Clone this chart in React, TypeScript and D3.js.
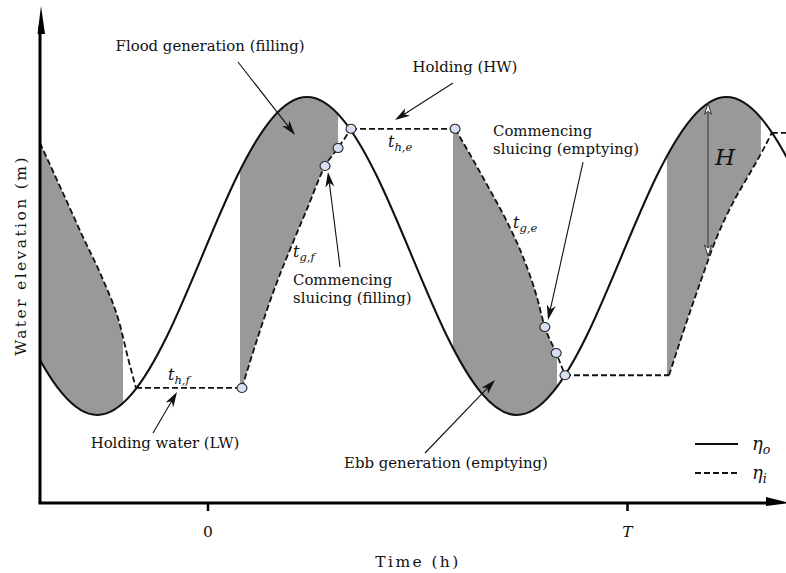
import React from 'react';
import * as d3 from 'd3';

const W = 786;
const H = 573;

// Outer (sea) water level η_o, read at regular points along the curve (t in units of T)
const outerT = [-0.514, -0.431, -0.347, -0.264, -0.181, -0.097, -0.014, 0.069, 0.153, 0.236, 0.319, 0.403, 0.486, 0.569, 0.653, 0.736, 0.819, 0.903, 0.986, 1.069, 1.153, 1.236, 1.319, 1.403, 1.486];
const outerEta = [0, -0.5, -0.866, -1, -0.866, -0.5, 0, 0.5, 0.866, 1, 0.866, 0.5, 0, -0.5, -0.866, -1, -0.866, -0.5, 0, 0.5, 0.866, 1, 0.866, 0.5, 0];

// Inner (lagoon) water level η_i, phase by phase
const ebbLeftT = [-0.4005, -0.3457, -0.298, -0.25, -0.2098, -0.1907, -0.1716];
const ebbLeftEta = [0.711, 0.396, 0.119, -0.151, -0.434, -0.642, -0.83];
const holdLowT = [-0.1716, 0.081];
const holdLowEta = [-0.83, -0.83];
const floodT = [0.081, 0.119, 0.16, 0.2, 0.238, 0.279, 0.31, 0.341];
const floodEta = [-0.83, -0.509, -0.195, 0.069, 0.308, 0.566, 0.679, 0.8];
const holdHighT = [0.341, 0.589];
const holdHighEta = [0.8, 0.8];
const ebbT = [0.589, 0.632, 0.672, 0.713, 0.751, 0.784, 0.803, 0.83, 0.851];
const ebbEta = [0.8, 0.604, 0.415, 0.214, -0.006, -0.258, -0.447, -0.61, -0.75];
const holdLow2T = [0.851, 1.099];
const holdLow2Eta = [-0.75, -0.75];
const flood2T = [1.099, 1.132, 1.173, 1.213, 1.251, 1.292, 1.323, 1.344];
const flood2Eta = [-0.75, -0.484, -0.17, 0.119, 0.333, 0.522, 0.667, 0.774];
const holdHigh2T = [1.344, 1.378];
const holdHigh2Eta = [0.774, 0.774];

// Sluicing markers
const markerT = [0.081, 0.279, 0.31, 0.341, 0.589, 0.803, 0.83, 0.851];
const markerEta = [-0.83, 0.566, 0.679, 0.8, 0.8, -0.447, -0.61, -0.75];

// Generation windows (shaded)
const genStart = [-0.4005, 0.0763, 0.584, 1.094];
const genEnd = [-0.2026, 0.31, 0.832, 1.318];
const genType = ['ebb', 'flood', 'ebb', 'flood'];

// Tick labels
const tickT = [0, 1];
const tickLabels = ['0', 'T'];

// Annotations
const annLines = [
  ['Flood generation (filling)'],
  ['Holding (HW)'],
  ['Commencing', 'sluicing (emptying)'],
  ['Commencing', 'sluicing (filling)'],
  ['Holding water (LW)'],
  ['Ebb generation (emptying)'],
];
const annTextT = [0.005, 0.6126, 0.6794, 0.2026, -0.1025, 0.5673];
const annTextEta = [1.289, 1.157, 0.755, -0.182, -1.2075, -1.333];
const annAnchor = ['middle', 'middle', 'start', 'start', 'middle', 'middle'];
const annFromT = [0.0715, 0.584, 0.894, 0.3147, -0.1311, 0.5173];
const annFromEta = [1.22, 1.088, 0.591, -0.069, -1.113, -1.239];
const annToT = [0.2074, 0.4458, 0.8105, 0.286, -0.0739, 0.6842];
const annToEta = [0.761, 0.855, -0.4025, 0.528, -0.855, -0.78];

// Duration labels t_{sub}
const durSub = ['h,f', 'h,e', 'g,f', 'g,e'];
const durT = [-0.0954, 0.429, 0.2026, 0.727];
const durEta = [-0.78, 0.686, -0.006, 0.176];

// Tidal range marker
const rangeT = 1.192;
const rangeTop = 0.96;
const rangeBottom = 0.0;

const zip = (a: number[], b: number[]) => a.map((v, i) => [v, b[i]] as [number, number]);

function head(sx: number, sy: number, tx: number, ty: number, len: number, wid: number) {
  const dx = tx - sx, dy = ty - sy;
  const L = Math.hypot(dx, dy);
  const ux = dx / L, uy = dy / L;
  const nx = -uy, ny = ux;
  const bx = tx - ux * len, by = ty - uy * len;
  const pts = [
    [tx, ty],
    [bx + nx * wid / 2, by + ny * wid / 2],
    [tx - ux * len * 0.72, ty - uy * len * 0.72],
    [bx - nx * wid / 2, by - ny * wid / 2],
  ];
  return {
    end: [tx - ux * len * 0.6, ty - uy * len * 0.6],
    pts: pts.map((p) => p.join(',')).join(' '),
  };
}

export default function App() {
  const xs = d3.scaleLinear().domain([0, 1]).range([208, 627.5]);
  const ys = d3.scaleLinear().domain([-1, 1]).range([415, 97]);
  const axisX = 40;
  const axisY = 503;
  const right = 786;

  const lineNat = d3.line<[number, number]>().x((d) => xs(d[0])).y((d) => ys(d[1])).curve(d3.curveNatural);
  const lineMon = d3.line<[number, number]>().x((d) => xs(d[0])).y((d) => ys(d[1])).curve(d3.curveMonotoneX);

  const outerPath = lineNat(zip(outerT, outerEta)) as string;
  const oL = xs(outerT[0]);
  const oR = xs(outerT[outerT.length - 1]);

  const segs = [
    zip(ebbLeftT, ebbLeftEta),
    zip(holdLowT, holdLowEta),
    zip(floodT, floodEta),
    zip(holdHighT, holdHighEta),
    zip(ebbT, ebbEta),
    zip(holdLow2T, holdLow2Eta),
    zip(flood2T, flood2Eta),
    zip(holdHigh2T, holdHigh2Eta),
  ];
  const segPaths = segs.map((s) => lineMon(s) as string);
  const innerPath = segPaths.map((p, i) => (i === 0 ? p : p.replace(/^M/, 'L'))).join('');
  const iL = xs(ebbLeftT[0]) - 30;
  const iR = xs(holdHigh2T[1]) + 30;
  const innerPathExt = `M${iL},${ys(ebbLeftEta[0])}L` + innerPath.slice(1) + `L${iR},${ys(holdHigh2Eta[1])}`;

  const TOP = -50, BOT = 650;
  const aboveO = outerPath + `L${oR},${TOP}L${oL},${TOP}Z`;
  const belowO = outerPath + `L${oR},${BOT}L${oL},${BOT}Z`;
  const aboveI = innerPathExt + `L${iR},${TOP}L${iL},${TOP}Z`;
  const belowI = innerPathExt + `L${iR},${BOT}L${iL},${BOT}Z`;

  const serif = 'DejaVu Serif, Liberation Serif, serif';
  const ink = '#111';

  return (
    <svg width={W} height={H} viewBox={`0 0 ${W} ${H}`} style={{ position: 'absolute', left: 0, top: 0, background: '#fff' }}>
      <defs>
        <clipPath id="plot"><rect x={axisX} y={0} width={right - axisX} height={axisY} /></clipPath>
        <clipPath id="aboveO"><path d={aboveO} /></clipPath>
        <clipPath id="belowO"><path d={belowO} /></clipPath>
        <clipPath id="aboveI"><path d={aboveI} /></clipPath>
        <clipPath id="belowI"><path d={belowI} /></clipPath>
      </defs>
      <rect x={0} y={0} width={W} height={H} fill="#fff" />

      {/* shaded generation windows */}
      <g clipPath="url(#plot)">
        {genStart.map((s, i) => (
          <g key={i} clipPath={genType[i] === 'ebb' ? 'url(#belowI)' : 'url(#aboveI)'}>
            <rect
              x={xs(s)}
              y={0}
              width={xs(genEnd[i]) - xs(s)}
              height={axisY}
              fill="#999999"
              clipPath={genType[i] === 'ebb' ? 'url(#aboveO)' : 'url(#belowO)'}
            />
          </g>
        ))}
      </g>

      {/* water levels */}
      <g clipPath="url(#plot)">
        <path d={outerPath} fill="none" stroke={ink} strokeWidth={2.1} />
        {segPaths.map((p, i) => (
          <path key={i} d={p} fill="none" stroke={ink} strokeWidth={1.8} strokeDasharray="6 3" />
        ))}
      </g>

      {/* sluicing markers */}
      {markerT.map((t, i) => (
        <ellipse key={i} cx={xs(t)} cy={ys(markerEta[i])} rx={5} ry={4.5} fill="#d6e0f2" stroke="#222" strokeWidth={1.1} />
      ))}

      {/* tidal range H */}
      {(() => {
        const x = xs(rangeT);
        const y1 = ys(rangeTop), y2 = ys(rangeBottom);
        const h1 = head(x, y2, x, y1, 11, 7);
        const h2 = head(x, y1, x, y2, 11, 7);
        return (
          <g>
            <line x1={x} y1={h2.end[1]} x2={x} y2={h1.end[1]} stroke="#333" strokeWidth={1} />
            <polygon points={h1.pts} fill="#fff" stroke="#333" strokeWidth={1} />
            <polygon points={h2.pts} fill="#fff" stroke="#333" strokeWidth={1} />
            <text x={x + 7} y={ys(0.572)} fontFamily={serif} fontStyle="italic" fontSize={23} fill={ink}>H</text>
          </g>
        );
      })()}

      {/* annotations */}
      {annLines.map((lines, i) => {
        const sx = xs(annFromT[i]), sy = ys(annFromEta[i]);
        const tx = xs(annToT[i]), ty = ys(annToEta[i]);
        const h = head(sx, sy, tx, ty, 15, 9);
        return (
          <g key={i}>
            <line x1={sx} y1={sy} x2={h.end[0]} y2={h.end[1]} stroke={ink} strokeWidth={1.1} />
            <polygon points={h.pts} fill={ink} />
            <text x={xs(annTextT[i])} y={ys(annTextEta[i])} fontFamily={serif} fontSize={14.9} fill={ink} textAnchor={annAnchor[i] as any}>
              {lines.map((l, j) => (
                <tspan key={j} x={xs(annTextT[i])} dy={j === 0 ? 0 : 18}>{l}</tspan>
              ))}
            </text>
          </g>
        );
      })}

      {/* duration labels */}
      {durSub.map((s, i) => (
        <text key={i} x={xs(durT[i])} y={ys(durEta[i])} fontFamily={serif} fontStyle="italic" fontSize={16} fill={ink}>
          t
          <tspan dy={4} fontSize={11.5}>{s}</tspan>
        </text>
      ))}

      {/* axes */}
      <line x1={axisX} y1={axisY} x2={axisX} y2={26} stroke="#000" strokeWidth={3} />
      <polygon points={`${axisX + 1},6 ${axisX - 2.5},34 ${axisX + 5},34`} fill="#000" />
      <line x1={axisX - 1.5} y1={axisY} x2={770} y2={axisY} stroke="#000" strokeWidth={3} />
      <polygon points={`766,497 790,${axisY} 766,${axisY + 3}`} fill="#000" />
      {tickT.map((t, i) => (
        <g key={i}>
          <line x1={xs(t)} y1={axisY} x2={xs(t)} y2={axisY + 8} stroke="#000" strokeWidth={2.5} />
          <text x={xs(t)} y={537} textAnchor="middle" fontFamily={serif} fontSize={15.5} fontStyle={i === 1 ? 'italic' : 'normal'} fill={ink}>
            {tickLabels[i]}
          </text>
        </g>
      ))}
      <text x={418} y={567} textAnchor="middle" fontFamily={serif} fontSize={15.5} letterSpacing={2.4} fill={ink}>Time (h)</text>
      <text transform={`translate(26,${(axisY + 8) / 2}) rotate(-90)`} textAnchor="middle" fontFamily={serif} fontSize={15.5} letterSpacing={2.4} fill={ink}>
        Water elevation (m)
      </text>

      {/* legend */}
      <line x1={695} y1={444} x2={738} y2={444} stroke={ink} strokeWidth={2} />
      <text x={752} y={450} fontFamily={serif} fontStyle="italic" fontSize={18} fill={ink}>
        η<tspan dy={4} fontSize={12.5}>o</tspan>
      </text>
      <line x1={695} y1={473} x2={738} y2={473} stroke={ink} strokeWidth={1.8} strokeDasharray="6 3" />
      <text x={752} y={479} fontFamily={serif} fontStyle="italic" fontSize={18} fill={ink}>
        η<tspan dy={4} fontSize={12.5}>i</tspan>
      </text>
    </svg>
  );
}
